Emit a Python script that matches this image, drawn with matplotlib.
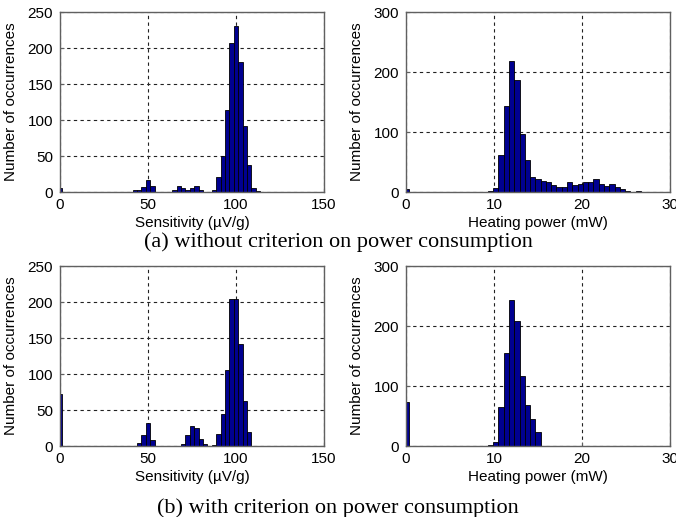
import matplotlib
matplotlib.use("Agg")
import matplotlib.pyplot as plt

# ---------------- data ----------------
# (a) without criterion: sensitivity histogram (bin width 2.5 uV/g)
sens_a_centers = [0, 42.5, 45, 47.5, 50, 52.5,
                  65, 67.5, 70, 72.5, 75, 77.5, 80,
                  87.5, 90, 92.5, 95, 97.5, 100, 102.5, 105, 107.5, 110, 112.5]
sens_a_counts = [5, 3, 3, 7, 16, 9,
                 3, 8, 5, 3, 5, 8, 3,
                 3, 21, 50, 114, 207, 230, 180, 91, 37, 5, 1]

# (a) without criterion: heating power histogram (bin width 0.6 mW)
pow_a_centers = [0, 9.6, 10.2, 10.8, 11.4, 12.0, 12.6, 13.2, 13.8, 14.4, 15.0,
                 15.6, 16.2, 16.8, 17.4, 18.0, 18.6, 19.2, 19.8, 20.4, 21.0,
                 21.6, 22.2, 22.8, 23.4, 24.0, 24.6, 25.2, 26.4]
pow_a_counts = [5, 2, 6, 61, 143, 218, 186, 96, 53, 25, 21,
                19, 17, 11, 9, 9, 16, 11, 13, 16, 16,
                21, 14, 10, 14, 8, 5, 2, 1]

# (b) with criterion: sensitivity histogram
sens_b_centers = [0, 45, 47.5, 50, 52.5,
                  70, 72.5, 75, 77.5, 80, 82.5,
                  87.5, 90, 92.5, 95, 97.5, 100, 102.5, 105, 107.5]
sens_b_counts = [72, 4, 15, 32, 8,
                 3, 15, 28, 25, 10, 3,
                 1, 17, 45, 106, 204, 204, 142, 62, 20]

# (b) with criterion: heating power histogram
pow_b_centers = [0, 9.6, 10.2, 10.8, 11.4, 12.0, 12.6, 13.2, 13.8, 14.4, 15.0]
pow_b_counts = [73, 2, 6, 65, 155, 244, 209, 117, 69, 45, 24]

sens_width = 2.5
pow_width = 0.6

sens_xticks = [0, 50, 100, 150]
sens_yticks = [0, 50, 100, 150, 200, 250]
pow_xticks = [0, 10, 20, 30]
pow_yticks = [0, 100, 200, 300]

xlabel_sens = "Sensitivity (\u00b5V/g)"
xlabel_pow = "Heating power (mW)"
ylabel = "Number of occurrences"
caption_a = "(a) without criterion on power consumption"
caption_b = "(b) with criterion on power consumption"

# ---------------- style ----------------
W, H = 676, 517
fig = plt.figure(figsize=(W / 100, H / 100), dpi=100)
plt.rcParams['font.family'] = ['Liberation Sans', 'DejaVu Sans']

bar_color = '#000090'
spine_color = '#606060'


def px_axes(left, top, right, bottom):
    return [left / W, 1 - bottom / H, (right - left) / W, (bottom - top) / H]


def draw(ax, centers, counts, width, xticks, yticks, xlabel):
    ax.set_axisbelow(True)
    ax.bar(centers, counts, width=width, color=bar_color, edgecolor='black',
           linewidth=0.6, align='center')
    ax.set_xlim(xticks[0], xticks[-1])
    ax.set_ylim(yticks[0], yticks[-1])
    ax.set_xticks(xticks)
    ax.set_yticks(yticks)
    ax.grid(True, color='#222222', linestyle=(0, (3, 3)), linewidth=0.8)
    for s in ax.spines.values():
        s.set_color(spine_color)
        s.set_linewidth(1.0)
    ax.tick_params(direction='in', length=3, color=spine_color,
                   labelsize=11, pad=4)
    ax.tick_params(axis='y', pad=5)
    ax.set_xlabel(xlabel, fontsize=11, va='top')
    ax.set_ylabel(ylabel, fontsize=11)
    ax.xaxis.set_label_coords(0.5, -0.135)
    ax.yaxis.set_label_coords(-0.16, 0.5)


ax1 = fig.add_axes(px_axes(60, 12, 324, 192))
ax2 = fig.add_axes(px_axes(406, 12, 670, 192))
ax3 = fig.add_axes(px_axes(60, 266, 324, 446))
ax4 = fig.add_axes(px_axes(406, 266, 670, 446))

draw(ax1, sens_a_centers, sens_a_counts, sens_width, sens_xticks, sens_yticks, xlabel_sens)
draw(ax2, pow_a_centers, pow_a_counts, pow_width, pow_xticks, pow_yticks, xlabel_pow)
draw(ax3, sens_b_centers, sens_b_counts, sens_width, sens_xticks, sens_yticks, xlabel_sens)
draw(ax4, pow_b_centers, pow_b_counts, pow_width, pow_xticks, pow_yticks, xlabel_pow)

fig.text(0.5, 1 - 242 / H, caption_a, ha='center', va='center',
         fontsize=16, family=['Liberation Serif', 'DejaVu Serif'])
fig.text(0.5, 1 - 508 / H, caption_b, ha='center', va='center',
         fontsize=16, family=['Liberation Serif', 'DejaVu Serif'])

fig.savefig("out.png", dpi=100)
